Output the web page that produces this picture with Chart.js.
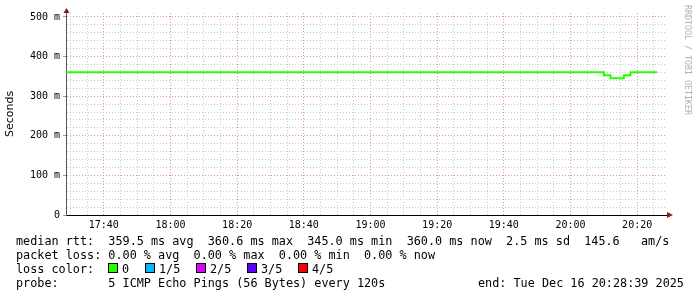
<!DOCTYPE html>
<html>
<head>
<meta charset="utf-8">
<title>median rtt</title>
<script src="https://cdn.jsdelivr.net/npm/chart.js@4/dist/chart.umd.min.js"></script>
<style>
    html, body { margin: 0; padding: 0; background: #fff; }
    #wrap { position: relative; width: 697px; height: 297px; overflow: hidden; background: #fff; }
    #graph { position: absolute; left: 0; top: 0; }
    .txt {
        position: absolute;
        font-family: "DejaVu Sans Mono", monospace;
        font-size: 11.8px;
        line-height: 14px;
        color: #000;
        white-space: pre;
    }
    .box { position: absolute; width: 8px; height: 8px; border: 1px solid #000; top: 263px; }
    #mark {
        position: absolute;
        left: 683px;
        top: 5px;
        writing-mode: vertical-rl;
        font-family: "DejaVu Sans Mono", monospace;
        font-size: 8.3px;
        color: #b0b0b0;
        white-space: pre;
    }
</style>
</head>
<body>
<div id="wrap">
    <canvas id="graph" width="697" height="297"></canvas>
    <div id="mark">RRDTOOL / TOBI OETIKER</div>
    <div class="txt" style="left:16px; top:234px;">median rtt:  359.5 ms avg  360.6 ms max  345.0 ms min  360.0 ms now  2.5 ms sd  145.6   am/s</div>
    <div class="txt" style="left:16px; top:248px;">packet loss: 0.00 % avg  0.00 % max  0.00 % min  0.00 % now</div>
    <div class="txt" style="left:16px; top:262px;">loss color:</div>
    <div class="txt" style="left:16px; top:276px;">probe:       5 ICMP Echo Pings (56 Bytes) every 120s</div>
    <div class="txt" style="left:478px; top:276px;">end: Tue Dec 16 20:28:39 2025</div>
    <div id="losslegend"></div>
</div>
<script>
// x values are minutes after midnight
var endTime = "20:28:39";
var spanMinutes = 180;
var firstPing = "17:28";
var pingStep = 2; // one probe every 120s

// median rtt in ms, one value per probe (17:28 ... 20:26)
var medianRtt = [
    360.3, 360.3, 360.3, 360.3, 360.3, 360.3, 360.3, 360.3, 360.3, 360.3,
    360.3, 360.3, 360.3, 360.3, 360.3, 360.3, 360.3, 360.3, 360.3, 360.3,
    360.3, 360.3, 360.3, 360.3, 360.3, 360.3, 360.3, 360.3, 360.3, 360.3,
    360.3, 360.3, 360.3, 360.3, 360.3, 360.3, 360.3, 360.3, 360.3, 360.3,
    360.3, 360.3, 360.3, 360.3, 360.3, 360.3, 360.3, 360.3, 360.3, 360.3,
    360.3, 360.3, 360.3, 360.3, 360.3, 360.3, 360.3, 360.3, 360.3, 360.3,
    360.3, 360.3, 360.3, 360.3, 360.3, 360.3, 360.3, 360.3, 360.3, 360.3,
    360.3, 360.3, 360.3, 360.3, 360.3, 360.3, 360.3, 360.3, 360.3, 360.3,
    360.3, 360.3, 352.8, 345.0, 345.0, 352.8, 360.3, 360.3, 360.3, 360.3
];

var yMax = 510;
var yLabelTicks = [0, 100, 200, 300, 400, 500];
var xTickLabels = ["17:40", "18:00", "18:20", "18:40", "19:00", "19:20", "19:40", "20:00", "20:20"];

var lossLabels = ["0", "1/5", "2/5", "3/5", "4/5"];
var lossColors = ["#26ff00", "#00b8ff", "#dd00ff", "#5e00ff", "#ff0000"];

function toMin(s) {
    var p = s.split(":");
    return +p[0] * 60 + +p[1] + (p[2] ? +p[2] / 60 : 0);
}

var xMax = toMin(endTime);
var xMin = xMax - spanMinutes;
var xMajor = xTickLabels.map(toMin);

var points = medianRtt.map(function (v, i) {
    return { x: toMin(firstPing) + i * pingStep, y: v };
});

// loss colour legend
var boxLeft = [108, 145, 196, 247, 298];
var legendDiv = document.getElementById("losslegend");
lossLabels.forEach(function (lab, i) {
    var b = document.createElement("div");
    b.className = "box";
    b.style.left = boxLeft[i] + "px";
    b.style.background = lossColors[i];
    legendDiv.appendChild(b);
    var t = document.createElement("div");
    t.className = "txt";
    t.style.left = (boxLeft[i] + 14) + "px";
    t.style.top = "262px";
    t.textContent = lab;
    legendDiv.appendChild(t);
});

var minorColor = "#c8c8c8";
var majorColor = "rgb(228,150,150)";

var axisArrows = {
    id: "axisArrows",
    afterDraw: function (chart) {
        var ctx = chart.ctx;
        var a = chart.chartArea;
        ctx.save();
        ctx.fillStyle = "#8b1a1a";
        ctx.beginPath();
        ctx.moveTo(a.left - 2.5, a.top);
        ctx.lineTo(a.left + 3.5, a.top);
        ctx.lineTo(a.left + 0.5, a.top - 5);
        ctx.closePath();
        ctx.fill();
        ctx.beginPath();
        ctx.moveTo(a.right + 1, a.bottom - 3);
        ctx.lineTo(a.right + 1, a.bottom + 3);
        ctx.lineTo(a.right + 7, a.bottom);
        ctx.closePath();
        ctx.fill();
        ctx.restore();
    }
};

var chart = new Chart(document.getElementById("graph"), {
    type: "line",
    data: {
        datasets: [
            {
                label: "median rtt",
                data: points,
                borderColor: lossColors[0],
                borderWidth: 2,
                pointRadius: 0,
                stepped: "after",
                fill: false,
            },
        ],
    },
    options: {
        responsive: false,
        animation: false,
        devicePixelRatio: 1,
        layout: { padding: { left: 0, top: 13, right: 31, bottom: 62 } },
        plugins: {
            legend: { display: false },
            tooltip: { enabled: false },
        },
        scales: {
            x: {
                type: "linear",
                min: xMin,
                max: xMax,
                afterBuildTicks: function (scale) {
                    var t = [];
                    for (var m = Math.ceil(xMin / 5) * 5; m <= xMax; m += 5) t.push({ value: m });
                    scale.ticks = t;
                },
                afterFit: function (scale) {
                    scale.height = 20;
                },
                grid: {
                    drawTicks: false,
                    color: function (c) {
                        return xMajor.indexOf(c.tick.value) >= 0 ? majorColor : minorColor;
                    },
                },
                border: { color: "#000", width: 1, dash: [1, 2] },
                ticks: {
                    autoSkip: false,
                    maxRotation: 0,
                    padding: 4,
                    color: "#000",
                    font: { family: "DejaVu Sans Mono", size: 10 },
                    callback: function (v) {
                        var i = xMajor.indexOf(v);
                        return i >= 0 ? xTickLabels[i] : "";
                    },
                },
            },
            y: {
                min: 0,
                max: yMax,
                afterFit: function (scale) {
                    scale.width = 66;
                },
                title: {
                    display: true,
                    text: "Seconds",
                    color: "#000",
                    font: { family: "DejaVu Sans", size: 11 },
                    padding: { top: 4, bottom: 0 },
                },
                grid: {
                    tickLength: 3,
                    color: function (c) {
                        return yLabelTicks.indexOf(c.tick.value) >= 0 ? majorColor : minorColor;
                    },
                    tickColor: function (c) {
                        return yLabelTicks.indexOf(c.tick.value) >= 0 ? "#999" : "rgba(0,0,0,0)";
                    },
                },
                border: { color: "#555", width: 1, dash: [1, 2] },
                ticks: {
                    stepSize: 20,
                    includeBounds: false,
                    autoSkip: false,
                    padding: 3,
                    color: "#000",
                    font: { family: "DejaVu Sans Mono", size: 10 },
                    callback: function (v) {
                        if (yLabelTicks.indexOf(v) < 0) return "";
                        return v === 0 ? "0" : v + " m";
                    },
                },
            },
        },
    },
    plugins: [axisArrows],
});
</script>
</body>
</html>
